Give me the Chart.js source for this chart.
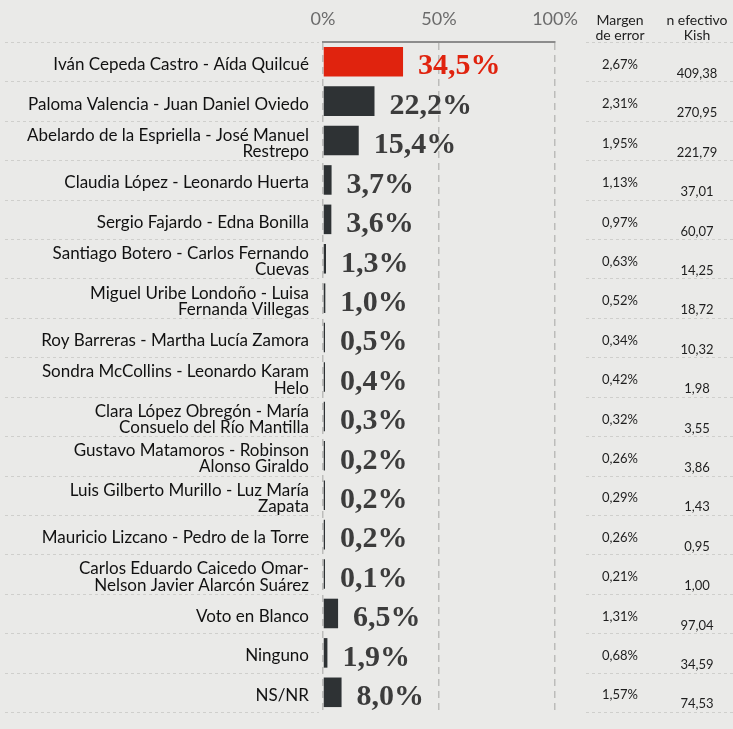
<!DOCTYPE html>
<html>
<head>
<meta charset="utf-8">
<script src="https://cdn.jsdelivr.net/npm/chart.js@4"></script>
<style>
    body { margin: 0; background: #eaeae8; }
    #wrap { width: 733px; height: 729px; }
</style>
</head>
<body>
<div id="wrap"><canvas id="grafico"></canvas></div>
<script>
// Fórmulas presidenciales (etiquetas en varias líneas como en la imagen)
var formulas = [
    ["Iván Cepeda Castro - Aída Quilcué"],
    ["Paloma Valencia - Juan Daniel Oviedo"],
    ["Abelardo de la Espriella - José Manuel", "Restrepo"],
    ["Claudia López - Leonardo Huerta"],
    ["Sergio Fajardo - Edna Bonilla"],
    ["Santiago Botero - Carlos Fernando", "Cuevas"],
    ["Miguel Uribe Londoño - Luisa", "Fernanda Villegas"],
    ["Roy Barreras - Martha Lucía Zamora"],
    ["Sondra McCollins - Leonardo Karam", "Helo"],
    ["Clara López Obregón - María", "Consuelo del Río Mantilla"],
    ["Gustavo Matamoros - Robinson", "Alonso Giraldo"],
    ["Luis Gilberto Murillo - Luz María", "Zapata"],
    ["Mauricio Lizcano - Pedro de la Torre"],
    ["Carlos Eduardo Caicedo Omar-", "Nelson Javier Alarcón Suárez"],
    ["Voto en Blanco"],
    ["Ninguno"],
    ["NS/NR"]
];
var intencion = [34.5, 22.2, 15.4, 3.7, 3.6, 1.3, 1.0, 0.5, 0.4, 0.3, 0.2, 0.2, 0.2, 0.1, 6.5, 1.9, 8.0];
var margenError = [2.67, 2.31, 1.95, 1.13, 0.97, 0.63, 0.52, 0.34, 0.42, 0.32, 0.26, 0.29, 0.26, 0.21, 1.31, 0.68, 1.57];
var nKish = [409.38, 270.95, 221.79, 37.01, 60.07, 14.25, 18.72, 10.32, 1.98, 3.55, 3.86, 1.43, 0.95, 1.00, 97.04, 34.59, 74.53];
var ticksX = [0, 50, 100];

var coresBarras = intencion.map((v, i) => i === 0 ? '#e0230e' : '#2e3234');

function coma(v, d) {
    return v.toFixed(d).replace('.', ',');
}

// Etiquetas de valor al final de cada barra
const etiquetasValor = {
    id: 'etiquetasValor',
    afterDatasetsDraw(chart) {
        const ctx = chart.ctx;
        const meta = chart.getDatasetMeta(0);
        ctx.save();
        ctx.font = 'bold 30px "Liberation Serif"';
        ctx.textBaseline = 'middle';
        ctx.textAlign = 'left';
        meta.data.forEach((bar, i) => {
            ctx.fillStyle = i === 0 ? '#e0230e' : '#3c3c3c';
            ctx.fillText(coma(intencion[i], 1) + '%', Math.max(bar.x, chart.chartArea.left + 2) + 15, bar.y + 5);
        });
        ctx.restore();
    }
};

// Tabla de la derecha (margen de error y n efectivo) + líneas punteadas
const tablaDerecha = {
    id: 'tablaDerecha',
    beforeDatasetsDraw(chart) {
        const ctx = chart.ctx;
        const y = chart.scales.y;
        const area = chart.chartArea;
        const paso = y.getPixelForValue(1) - y.getPixelForValue(0);
        ctx.save();
        ctx.strokeStyle = '#cfcfcc';
        ctx.lineWidth = 1;
        ctx.setLineDash([3, 3]);
        for (let i = 0; i <= formulas.length; i++) {
            const yy = Math.round(y.getPixelForValue(i) - paso / 2) + 0.5;
            ctx.beginPath();
            ctx.moveTo(5, yy);
            ctx.lineTo(area.left - 4, yy);
            ctx.moveTo(586, yy);
            ctx.lineTo(733, yy);
            ctx.stroke();
        }
        ctx.restore();
    },
    afterDraw(chart) {
        const ctx = chart.ctx;
        const y = chart.scales.y;
        ctx.save();
        ctx.fillStyle = '#1e1e1e';
        ctx.textAlign = 'center';
        ctx.textBaseline = 'middle';
        ctx.font = '14px Lato';
        ctx.fillText('Margen', 620, 20);
        ctx.fillText('de error', 620, 35);
        ctx.fillText('n efectivo', 697, 20);
        ctx.fillText('Kish', 697, 35);
        ctx.font = '13px Lato';
        for (let i = 0; i < formulas.length; i++) {
            const yy = y.getPixelForValue(i);
            ctx.fillText(coma(margenError[i], 2) + '%', 620, yy + 3);
            ctx.fillText(coma(nKish[i], 2), 697, yy + 12);
        }
        ctx.restore();
    }
};

const ctx = document.getElementById('grafico');
const grafico = new Chart(ctx, {
    type: 'bar',
    data: {
        labels: formulas,
        datasets: [{
            data: intencion,
            backgroundColor: coresBarras,
            borderWidth: 0,
            barPercentage: 0.75,
            categoryPercentage: 1,
            minBarLength: 2
        }]
    },
    options: {
        indexAxis: 'y',
        responsive: true,
        maintainAspectRatio: false,
        animation: false,
        layout: { padding: { left: 0, right: 178, top: 0, bottom: 17 } },
        plugins: {
            legend: { display: false },
            tooltip: { enabled: false }
        },
        scales: {
            x: {
                position: 'top',
                min: 0,
                max: 100,
                afterBuildTicks: function (scale) {
                    scale.ticks = ticksX.map(v => ({ value: v }));
                },
                afterFit: function (scale) { scale.height = 42; },
                ticks: {
                    callback: v => v + '%',
                    color: '#6b6b6b',
                    font: { family: 'Lato', size: 18 },
                    padding: 12
                },
                grid: {
                    color: '#bcbcba',
                    lineWidth: 1.5,
                    drawTicks: false
                },
                border: {
                    display: true,
                    color: '#8c8c8c',
                    width: 2,
                    dash: [7, 5]
                }
            },
            y: {
                afterFit: function (scale) { scale.width = 323; },
                ticks: {
                    color: '#111111',
                    font: { family: 'Lato', size: 17, lineHeight: 0.95 },
                    padding: 6,
                    labelOffset: 3
                },
                grid: { display: false },
                border: { display: false }
            }
        }
    },
    plugins: [tablaDerecha, etiquetasValor]
});
</script>
</body>
</html>
